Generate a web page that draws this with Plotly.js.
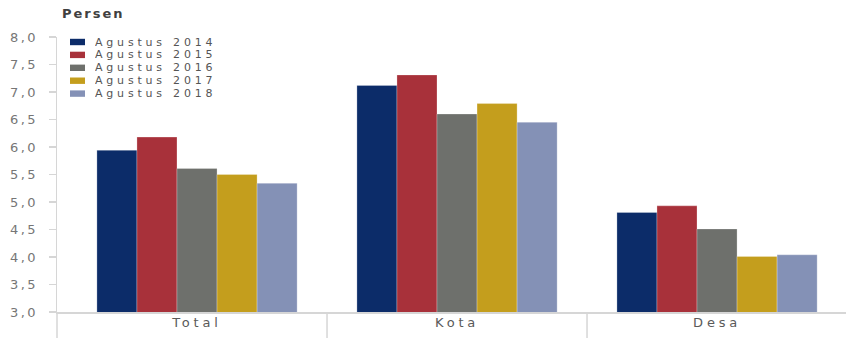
<!DOCTYPE html>
<html>
<head>
<meta charset="utf-8">
<script src="https://cdn.plot.ly/plotly-3.0.1.min.js"></script>
<style>
  html, body { margin: 0; padding: 0; background: #ffffff; }
  #chart { width: 846px; height: 338px; }
  /* loose, wide lettering used throughout the chart */
  #chart .ytick text { letter-spacing: 2.4px; }
  #chart .xtick text { letter-spacing: 3.8px; }
  #chart .annotation-text { letter-spacing: 3.8px; }
  #chart .gtitle { letter-spacing: 2px; }
</style>
</head>
<body>
<div id="chart"></div>
<script>
// Tingkat pengangguran terbuka (persen) menurut daerah
const categories = ['Total', 'Kota', 'Desa'];
const seriesNames = ['Agustus 2014', 'Agustus 2015', 'Agustus 2016', 'Agustus 2017', 'Agustus 2018'];
const values2014 = [5.94, 7.12, 4.81];
const values2015 = [6.18, 7.31, 4.93];
const values2016 = [5.61, 6.60, 4.51];
const values2017 = [5.50, 6.79, 4.01];
const values2018 = [5.34, 6.45, 4.04];
const seriesValues = [values2014, values2015, values2016, values2017, values2018];
const seriesColors = ['#0c2c69', '#a8313a', '#6e706c', '#c49e1d', '#8491b6'];
const yTicks = [3.0, 3.5, 4.0, 4.5, 5.0, 5.5, 6.0, 6.5, 7.0, 7.5, 8.0];

const FONT = 'DejaVu Sans, Verdana, sans-serif';
const AXIS_GRAY = '#d6d6d6';

const traces = seriesNames.map((name, i) => ({
  type: 'bar',
  name: name,
  x: categories,
  y: seriesValues[i],
  marker: { color: seriesColors[i], line: { color: 'rgba(255,255,255,0.5)', width: 0.5 } },
  hoverinfo: 'x+y+name'
}));

// plot area geometry (px) used for the hand-built legend
const W = 846, H = 338;
const M = { l: 57, r: 0, t: 37, b: 26 };
const plotW = W - M.l - M.r, plotH = H - M.t - M.b;
const xRange = [-0.5385, 2.496];
const toPaperX = v => (v - xRange[0]) / (xRange[1] - xRange[0]);

const shapes = [];
const annotations = [];

// legend: colour swatch + label per series
seriesNames.forEach((name, i) => {
  const yc = 42 + 12.9 * i;              // row centre, px from top
  const py = v => (H - M.b - v) / plotH; // px -> paper y
  shapes.push({
    type: 'rect', xref: 'paper', yref: 'paper',
    x0: (70 - M.l) / plotW, x1: (85 - M.l) / plotW,
    y0: py(yc + 3.2), y1: py(yc - 3.2),
    fillcolor: seriesColors[i], line: { width: 0 }
  });
  annotations.push({
    xref: 'paper', yref: 'paper',
    x: (94 - M.l) / plotW, y: py(yc),
    xanchor: 'left', yanchor: 'middle',
    width: 140, align: 'left', borderpad: 0,
    text: name, showarrow: false,
    font: { family: FONT, size: 11, color: '#555555' }
  });
});

// y axis line continues down past the category axis
shapes.push({
  type: 'line', xref: 'paper', yref: 'paper',
  x0: 0, x1: 0, y0: -M.b / plotH, y1: 0,
  line: { color: AXIS_GRAY, width: 1.5 }
});
// dividers between the category groups, below the baseline
[0.5, 1.5].forEach(b => {
  shapes.push({
    type: 'line', xref: 'paper', yref: 'paper',
    x0: toPaperX(b), x1: toPaperX(b), y0: -M.b / plotH, y1: 0,
    line: { color: AXIS_GRAY, width: 1.5 }
  });
});

const layout = {
  width: W, height: H,
  margin: M,
  paper_bgcolor: '#ffffff',
  plot_bgcolor: '#ffffff',
  separators: ',.',
  showlegend: false,
  barmode: 'group',
  bargap: 0.23,
  bargroupgap: 0,
  title: {
    text: '<b>Persen</b>',
    xref: 'container', yref: 'container',
    x: 62 / W, xanchor: 'left',
    y: 1 - 13 / H, yanchor: 'middle',
    font: { family: FONT, size: 13, color: '#404040' }
  },
  xaxis: {
    type: 'category',
    range: xRange,
    showgrid: false, zeroline: false,
    showline: true, linecolor: AXIS_GRAY, linewidth: 1.5,
    ticks: '',
    ticklabelstandoff: -2,
    tickfont: { family: FONT, size: 13, color: '#5a5a5a' },
    fixedrange: true
  },
  yaxis: {
    range: [3, 8],
    tickmode: 'array', tickvals: yTicks,
    tickformat: '.1f',
    showgrid: false, zeroline: false,
    showline: true, linecolor: AXIS_GRAY, linewidth: 1.5,
    ticks: 'outside', ticklen: 7, tickwidth: 1.5, tickcolor: AXIS_GRAY,
    ticklabelstandoff: 8,
    tickfont: { family: FONT, size: 13, color: '#767676' },
    fixedrange: true
  },
  shapes: shapes,
  annotations: annotations
};

Plotly.newPlot('chart', traces, layout, { displayModeBar: false, staticPlot: true });
</script>
</body>
</html>
